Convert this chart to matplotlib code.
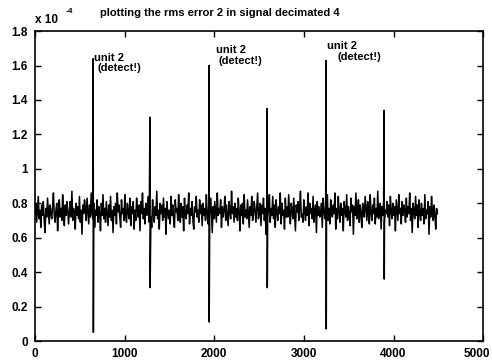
import numpy as np
import matplotlib
matplotlib.use("Agg")
import matplotlib.pyplot as plt
from matplotlib.ticker import FuncFormatter
from matplotlib.transforms import ScaledTranslation

plt.rcParams['font.family'] = ['Liberation Sans', 'DejaVu Sans']

# noise of the rms error signal (units of 1e-4, read in hundredths)
noise_hundredths = [
    74, 80, 69, 77, 84, 71, 76, 66, 79, 73, 81, 70, 63, 77, 72, 83, 75, 68, 79, 74,
    71, 78, 86, 73, 69, 76, 80, 64, 75, 82, 72, 77, 70, 85, 74, 67, 79, 73, 81, 76,
    68, 75, 81, 72, 87, 70, 77, 74, 65, 80, 73, 78, 71, 84, 69, 76, 62, 79, 74, 82,
    77, 70, 83, 75, 68, 79, 72, 86, 74, 71, 80, 66, 76, 73, 82, 69, 78, 75, 64, 80,
    73, 85, 71, 77, 69, 81, 74, 67, 79, 72, 84, 70, 76, 63, 78, 73, 80, 68, 86, 75,
    79, 72, 66, 82, 74, 77, 70, 85, 73, 69, 80, 75, 71, 83, 67, 78, 74, 81, 65, 76,
    70, 83, 76, 72, 79, 64, 81, 74, 86, 71, 77, 68, 80, 73, 75, 84, 69, 78, 72, 66,
    82, 74, 69, 78, 73, 87, 71, 76, 65, 80, 74, 79, 70, 83, 72, 77, 62, 81, 75, 71,
    76, 68, 84, 73, 79, 71, 66, 82, 75, 77, 70, 85, 74, 69, 80, 72, 78, 64, 83, 73,
    71, 79, 74, 86, 68, 77, 73, 81, 70, 65, 78, 75, 84, 72, 76, 69, 82, 74, 79, 67,
    80, 73, 77, 70, 85, 74, 68, 79, 72, 83, 76, 63, 78, 71, 81, 75, 69, 86, 73, 77,
    74, 82, 66, 78, 72, 76, 84, 70, 79, 73, 67, 81, 75, 71, 87, 74, 78, 69, 80, 72,
    77, 70, 83, 75, 64, 79, 73, 80, 68, 85, 72, 76, 71, 82, 74, 66, 78, 73, 84, 70,
    73, 81, 76, 69, 78, 86, 71, 75, 80, 67, 79, 74, 83, 70, 77, 62, 81, 72, 76, 85,
    69, 77, 73, 84, 71, 79, 66, 82, 75, 70, 78, 74, 86, 68, 80, 73, 76, 65, 83, 72,
    78, 72, 85, 74, 68, 80, 76, 71, 83, 73, 64, 79, 75, 81, 70, 77, 87, 72, 74, 69,
    82, 75, 70, 78, 73, 86, 67, 80, 74, 77, 71, 84, 69, 76, 79, 63, 81, 73, 78, 72,
    74, 80, 66, 83, 76, 71, 78, 73, 85, 70, 77, 68, 82, 75, 72, 79, 74, 86, 65, 77,
    71, 84, 75, 69, 80, 73, 77, 64, 81, 76, 72, 85, 70, 78, 74, 67, 83, 75, 79, 62,
    78, 73, 86, 71, 76, 82, 69, 79, 74, 66, 80, 75, 72, 84, 77, 70, 81, 73, 68, 85,
    75, 70, 79, 74, 83, 68, 77, 72, 87, 71, 76, 80, 65, 78, 73, 82, 69, 76, 74, 81,
    72, 79, 67, 84, 75, 71, 80, 73, 78, 64, 82, 76, 70, 85, 74, 77, 68, 81, 73, 79,
    76, 69, 83, 72, 78, 74, 86, 70, 77, 63, 80, 75, 71, 84, 73, 79, 66, 82, 74, 70,
    80, 73, 77, 68, 85, 71, 76, 74, 81, 62, 78, 72, 84, 75, 70, 79, 73, 65, 77, 74,
]
noise_start = 0
noise_end = 4490

# spikes (sample index, top value, bottom value) in units of 1e-4
spike_x = [650, 1283, 1942, 2590, 3248, 3895]
spike_top = [1.64, 1.30, 1.60, 1.35, 1.63, 1.34]
spike_bottom = [0.05, 0.31, 0.11, 0.31, 0.07, 0.36]
detected = [True, False, True, False, True, False]

x_ticks = [0, 1000, 2000, 3000, 4000, 5000]
y_ticks = [0, 0.2, 0.4, 0.6, 0.8, 1.0, 1.2, 1.4, 1.6, 1.8]

noise = np.array(noise_hundredths) / 100.0
xn = np.linspace(noise_start, noise_end, len(noise))
sx = np.array(spike_x, dtype=float)
x_all = np.concatenate([xn, sx, sx + 2])
y_all = np.concatenate([noise, spike_top, spike_bottom])
order = np.argsort(x_all, kind='stable')
x_all, y_all = x_all[order], y_all[order]

fig = plt.figure(figsize=(4.92, 3.62), dpi=100)
ax = fig.add_axes([0.071, 0.058, 0.911, 0.856])
ax.plot(x_all, y_all, color='black', linewidth=1.1)

ax.set_xlim(0, 5000)
ax.set_ylim(0, 1.8)
ax.set_xticks(x_ticks)
ax.set_yticks(y_ticks)
ax.xaxis.set_major_formatter(FuncFormatter(lambda v, p: '%g' % v))
ax.yaxis.set_major_formatter(FuncFormatter(lambda v, p: '%g' % round(v, 2)))
ax.tick_params(direction='in', length=4, width=1, top=True, right=True,
               labelsize=8.5, pad=5)
for lab in ax.get_xticklabels() + ax.get_yticklabels():
    lab.set_fontweight('bold')
last = ax.get_xticklabels()[-1]
last.set_transform(last.get_transform() + ScaledTranslation(-0.06, 0, fig.dpi_scale_trans))
for s in ax.spines.values():
    s.set_linewidth(1.2)

# annotations
ann_pos = {650: (660, 1.675, 700, 1.612), 1942: (2020, 1.72, 2045, 1.657),
           3248: (3260, 1.74, 3370, 1.677)}
for x, d in zip(spike_x, detected):
    if d:
        tx, ty, dx, dy = ann_pos[x]
        ax.text(tx, ty, 'unit 2', fontsize=8, fontweight='bold', va='top', ha='left')
        ax.text(dx, dy, '(detect!)', fontsize=8, fontweight='bold', va='top', ha='left')

fig.text(0.203, 0.965, 'plotting the rms error 2 in signal decimated 4',
         fontsize=8, fontweight='bold', ha='left', va='center')
fig.text(0.072, 0.945, 'x 10', fontsize=8.5, fontweight='bold', ha='left', va='center')
fig.text(0.134, 0.967, '-4', fontsize=6, fontweight='bold', ha='left', va='center')

fig.savefig('out.png', dpi=100)
